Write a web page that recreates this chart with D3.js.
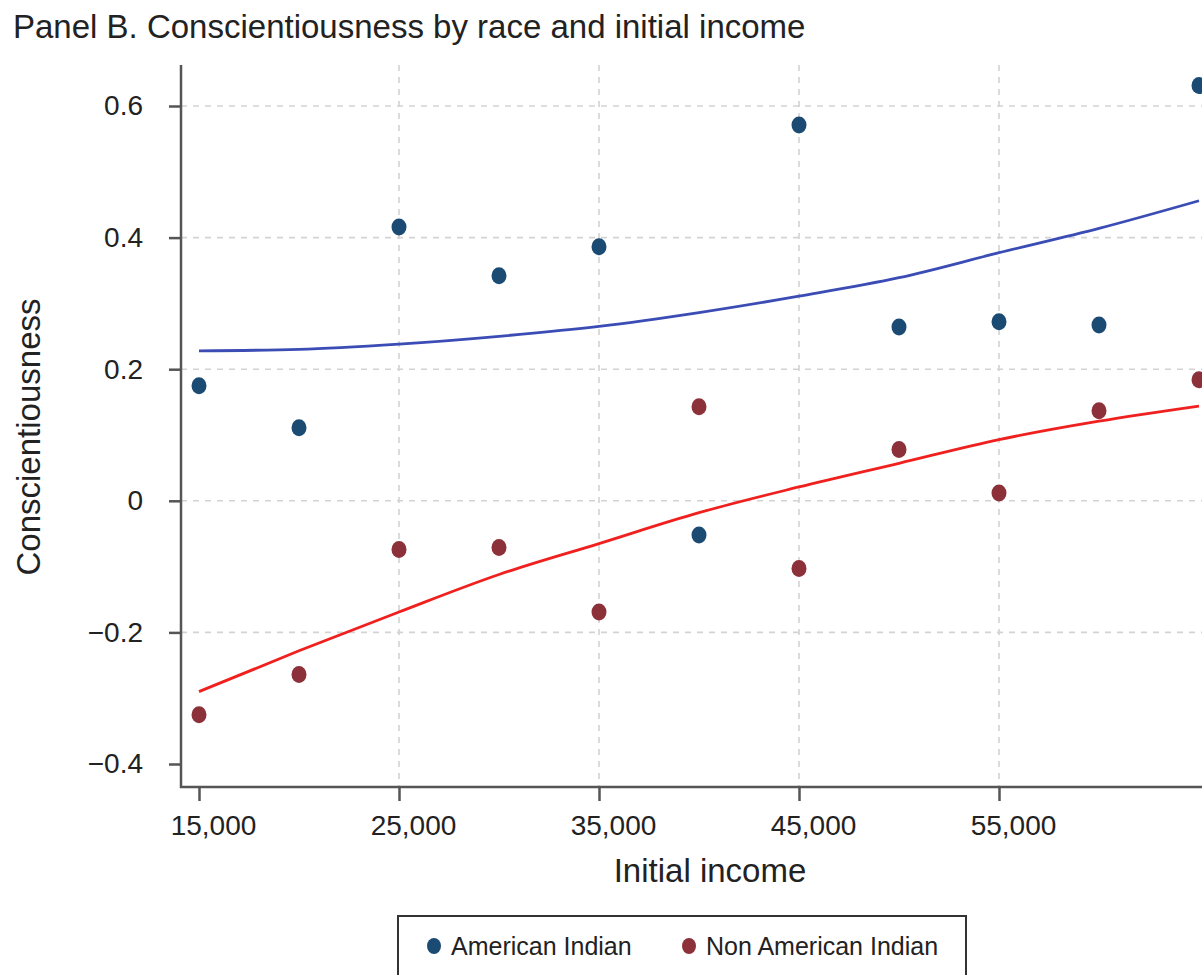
<!DOCTYPE html>
<html>
<head>
<meta charset="utf-8">
<script src="https://cdn.jsdelivr.net/npm/d3@7"></script>
<style>
  body { margin: 0; background: #fff; }
  text { font-family: "Liberation Sans", Arial, sans-serif; fill: #222; }
</style>
</head>
<body>
<svg width="1202" height="975"></svg>
<script>
// income groups (x values)
var incomes = [15000, 20000, 25000, 30000, 35000, 40000, 45000, 50000, 55000, 60000, 65000];
// group means
var amIndian = [0.175, 0.111, 0.416, 0.342, 0.386, -0.052, 0.571, 0.264, 0.272, 0.267, 0.631];
var nonAmIndian = [-0.325, -0.264, -0.074, -0.071, -0.169, 0.143, -0.103, 0.078, 0.012, 0.137, 0.184];
// fitted curves
var fitAmIndian = [0.228, 0.230, 0.238, 0.250, 0.265, 0.286, 0.311, 0.339, 0.377, 0.414, 0.456];
var fitNonAmIndian = [-0.290, -0.228, -0.169, -0.112, -0.065, -0.018, 0.021, 0.057, 0.093, 0.121, 0.144];

var xTicks = [15000, 25000, 35000, 45000, 55000];
var yTicks = [-0.4, -0.2, 0, 0.2, 0.4, 0.6];
var legendLabels = ['American Indian', 'Non American Indian'];

var dotColors = ['#1b4b73', '#8c3139'];
var lineColors = ['#3b4db5', '#f0201e'];

var svg = d3.select('svg');

var xScale = d3.scaleLinear().domain([15000, 65000]).range([199, 1199]);
var yScale = d3.scaleLinear().domain([-0.4, 0.6]).range([764, 106]);

var axisX = 181, axisY = 787;

// title
svg.append('text')
    .attr('x', 13)
    .attr('y', 38)
    .style('font-size', '33px')
    .text('Panel B. Conscientiousness by race and initial income');

// grid lines (Stata style: skip the lowest tick)
var gridG = svg.append('g');
gridG.selectAll('.hgrid')
    .data(yTicks.slice(1))
    .enter().append('line')
    .attr('x1', axisX).attr('x2', 1202)
    .attr('y1', function(d) { return yScale(d); })
    .attr('y2', function(d) { return yScale(d); })
    .attr('stroke', '#d3d3d3').attr('stroke-width', 1.6)
    .attr('stroke-dasharray', '6,6');
gridG.selectAll('.vgrid')
    .data(xTicks.slice(1))
    .enter().append('line')
    .attr('y1', 65).attr('y2', axisY)
    .attr('x1', function(d) { return xScale(d); })
    .attr('x2', function(d) { return xScale(d); })
    .attr('stroke', '#d3d3d3').attr('stroke-width', 1.6)
    .attr('stroke-dasharray', '6,6');

// axes
var yAxisG = svg.append('g')
    .attr('transform', 'translate(' + [axisX, 0] + ')')
    .call(d3.axisLeft(yScale)
        .tickValues(yTicks)
        .tickSize(12)
        .tickPadding(26)
        .tickFormat(function(d) { return d === 0 ? '0' : d3.format('.1f')(d); }));
yAxisG.select('.domain').remove();

var xAxisG = svg.append('g')
    .attr('transform', 'translate(' + [0, axisY] + ')')
    .call(d3.axisBottom(xScale)
        .tickValues(xTicks)
        .tickSize(14)
        .tickPadding(6)
        .tickFormat(d3.format(',')));
xAxisG.select('.domain').remove();
// labels sit a little right of their ticks in the original
xAxisG.selectAll('.tick text').attr('x', 14).attr('y', 48).attr('dy', null);

svg.selectAll('.tick line').attr('stroke', '#555').attr('stroke-width', 2.5);
svg.selectAll('.tick text')
    .style('font-size', '28px')
    .style('font-family', '"Liberation Sans", Arial, sans-serif')
    .attr('fill', '#222');

svg.append('line')
    .attr('x1', axisX).attr('x2', axisX)
    .attr('y1', 65).attr('y2', axisY + 1)
    .attr('stroke', '#555').attr('stroke-width', 2.5);
svg.append('line')
    .attr('x1', axisX - 1).attr('x2', 1202)
    .attr('y1', axisY).attr('y2', axisY)
    .attr('stroke', '#555').attr('stroke-width', 2.5);

// axis titles
svg.append('text')
    .attr('x', 710)
    .attr('y', 882)
    .attr('text-anchor', 'middle')
    .style('font-size', '33px')
    .text('Initial income');
svg.append('text')
    .attr('transform', 'translate(' + [40, 437] + ') rotate(-90)')
    .attr('text-anchor', 'middle')
    .style('font-size', '33px')
    .text('Conscientiousness');

// fitted lines
var line = d3.line()
    .x(function(d, i) { return xScale(incomes[i]); })
    .y(function(d) { return yScale(d); })
    .curve(d3.curveMonotoneX);

[fitAmIndian, fitNonAmIndian].forEach(function(series, k) {
    svg.append('path')
        .datum(series)
        .attr('d', line)
        .attr('fill', 'none')
        .attr('stroke', lineColors[k])
        .attr('stroke-width', 2.8);
});

// dots
[amIndian, nonAmIndian].forEach(function(series, k) {
    svg.append('g').selectAll('ellipse')
        .data(series)
        .enter().append('ellipse')
        .attr('cx', function(d, i) { return xScale(incomes[i]); })
        .attr('cy', function(d) { return yScale(d); })
        .attr('rx', 7.5)
        .attr('ry', 8.5)
        .attr('fill', dotColors[k]);
});

// legend
var legendG = svg.append('g');
legendG.append('rect')
    .attr('x', 398).attr('y', 916)
    .attr('width', 568).attr('height', 80)
    .attr('fill', '#fff')
    .attr('stroke', '#333').attr('stroke-width', 2);
var legendX = [434, 689];
legendLabels.forEach(function(label, k) {
    legendG.append('ellipse')
        .attr('cx', legendX[k]).attr('cy', 946)
        .attr('rx', 7).attr('ry', 8)
        .attr('fill', dotColors[k]);
    legendG.append('text')
        .attr('x', legendX[k] + 17).attr('y', 955)
        .style('font-size', '25px')
        .text(label);
});
</script>
</body>
</html>
